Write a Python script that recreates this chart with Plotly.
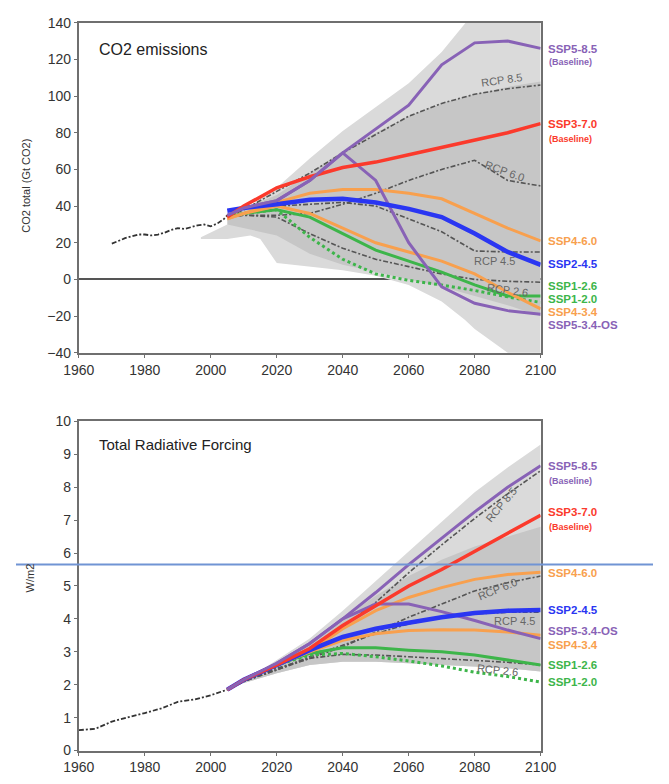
import plotly.graph_objects as go

# ---------------- DATA ----------------
years = [2005, 2010, 2020, 2030, 2040, 2050, 2060, 2070, 2080, 2090, 2100]

# CO2 emissions (Gt CO2)
hist_co2_years = [1970, 1972, 1974, 1976, 1978, 1980, 1982, 1984, 1986, 1988, 1990,
                  1992, 1994, 1996, 1998, 2000, 2002, 2004, 2005]
hist_co2 = [19.5, 21, 22.5, 23.5, 24.5, 24.5, 24, 24.5, 25.5, 27, 28,
            27.5, 28.5, 29.5, 30, 29, 30.5, 33, 35]

env_co2_years = [1997, 2005, 2012, 2015, 2020, 2030, 2040, 2050, 2060, 2070, 2077, 2080, 2090, 2100]
env_co2_upper = [23, 30, 40, 44, 50, 66, 81, 94, 107, 124, 140, 146, 160, 172]
env_co2_lower = [22, 22, 24, 22, 9, 7, 5, 2, -3, -12, -22, -27, -40, -55]
core_co2_years = [2005, 2020, 2030, 2040, 2050, 2060, 2070, 2080, 2090, 2100]
core_co2_upper = [35, 46, 58, 70, 80, 89, 96, 101, 105, 108]
core_co2_lower = [30, 24, 14, 8, 4, 0, -4, -9, -14, -20]

co2 = {
    "SSP5-8.5": [35, 39, 43, 54, 69, 82, 95, 117, 129, 130, 126],
    "SSP3-7.0": [34, 40, 50, 56, 61, 64, 68, 72, 76, 80, 85],
    "SSP4-6.0": [33, 36, 42, 47, 49, 49, 47, 44, 36, 28, 21],
    "SSP2-4.5": [37.5, 39, 41, 43.5, 44, 42, 38.5, 34, 25, 15, 8],
    "SSP1-2.6": [34, 36, 38, 34, 25, 16, 10, 4, -3, -9, -9],
    "SSP1-2.0": [34, 36, 38, 23, 11, 3, -0.5, -3, -6, -9.5, -12.5],
    "SSP4-3.4": [33, 36, 40, 36, 28, 20, 15, 10, 3, -7, -16],
    "SSP5-3.4-OS": [35, 39, 43, 54, 69, 54, 20, -4, -13, -17, -19],
}
co2_rcp = {
    "RCP 8.5": [34, 38, 48, 58, 69, 79, 89, 96, 101, 104, 106],
    "RCP 6.0": [34, 35, 35, 36, 41, 47, 54, 60, 65, 54, 51],
    "RCP 4.5": [34, 36, 40, 41, 42, 40, 33, 26, 15.5, 15, 15],
    "RCP 2.6": [34, 35, 34, 25, 17, 11, 7, 3, 0, -1, -1.5],
}

# Total radiative forcing (W/m2)
hist_rf_years = [1960, 1965, 1970, 1975, 1980, 1985, 1990, 1995, 2000, 2005]
hist_rf = [0.62, 0.66, 0.88, 1.0, 1.14, 1.28, 1.48, 1.55, 1.68, 1.85]

env_rf_upper = [1.85, 2.1, 2.75, 3.4, 4.25, 5.15, 6.05, 6.95, 7.85, 8.6, 9.3]
env_rf_lower = [1.85, 2.05, 2.35, 2.6, 2.7, 2.7, 2.65, 2.6, 2.55, 2.5, 2.4]
core_rf_upper = [1.85, 2.1, 2.7, 3.3, 4.0, 4.7, 5.3, 5.8, 6.2, 6.5, 6.8]

rf = {
    "SSP5-8.5": [1.85, 2.15, 2.65, 3.25, 4.0, 4.8, 5.65, 6.45, 7.25, 8.0, 8.65],
    "SSP3-7.0": [1.85, 2.15, 2.6, 3.1, 3.8, 4.4, 5.0, 5.5, 6.05, 6.6, 7.15],
    "SSP4-6.0": [1.85, 2.15, 2.6, 3.0, 3.7, 4.25, 4.65, 4.95, 5.2, 5.35, 5.42],
    "SSP2-4.5": [1.85, 2.15, 2.6, 3.05, 3.45, 3.7, 3.88, 4.05, 4.18, 4.25, 4.27],
    "SSP5-3.4-OS": [1.85, 2.15, 2.65, 3.25, 4.0, 4.45, 4.45, 4.22, 3.95, 3.66, 3.4],
    "SSP4-3.4": [1.85, 2.15, 2.6, 3.0, 3.35, 3.55, 3.65, 3.67, 3.66, 3.6, 3.5],
    "SSP1-2.6": [1.85, 2.15, 2.6, 2.95, 3.12, 3.12, 3.05, 3.0, 2.9, 2.75, 2.6],
    "SSP1-2.0": [1.85, 2.15, 2.6, 2.9, 2.95, 2.85, 2.72, 2.57, 2.38, 2.25, 2.08],
}
rf_rcp = {
    "RCP 8.5": [1.85, 2.1, 2.55, 3.1, 3.75, 4.5, 5.4, 6.25, 7.05, 7.8, 8.5],
    "RCP 6.0": [1.85, 2.1, 2.45, 2.8, 3.15, 3.6, 4.05, 4.45, 4.85, 5.1, 5.3],
    "RCP 4.5": [1.85, 2.1, 2.45, 2.85, 3.2, 3.55, 3.85, 4.05, 4.15, 4.2, 4.2],
    "RCP 2.6": [1.85, 2.1, 2.5, 2.8, 2.92, 2.9, 2.85, 2.8, 2.75, 2.68, 2.6],
}
rf_threshold = 5.65

# label positions (value on the axis) for right-hand labels
co2_label_y = {"SSP5-8.5": 125.5, "SSP3-7.0": 84.5, "SSP4-6.0": 21, "SSP2-4.5": 8.6,
               "SSP1-2.6": -3.3, "SSP1-2.0": -10.4, "SSP4-3.4": -17.5, "SSP5-3.4-OS": -24.6}
rf_label_y = {"SSP5-8.5": 8.65, "SSP3-7.0": 7.25, "SSP4-6.0": 5.4, "SSP2-4.5": 4.27,
              "SSP5-3.4-OS": 3.64, "SSP4-3.4": 3.2, "SSP1-2.6": 2.6, "SSP1-2.0": 2.07}
co2_rcp_label = {"RCP 8.5": (2088, 109, -8), "RCP 6.0": (2089, 59, 20),
                 "RCP 4.5": (2086, 10, 0), "RCP 2.6": (2090, -5.5, 8)}
rf_rcp_label = {"RCP 8.5": (2088, 7.45, -50), "RCP 6.0": (2087, 4.9, -22),
                "RCP 4.5": (2092, 3.95, 0), "RCP 2.6": (2087, 2.45, 6)}

# ---------------- STYLE ----------------
colors = {
    "SSP5-8.5": "#8862b6", "SSP5-3.4-OS": "#8862b6",
    "SSP3-7.0": "#fb3a2c",
    "SSP4-6.0": "#f8a04e", "SSP4-3.4": "#f8a04e",
    "SSP2-4.5": "#2a36f2",
    "SSP1-2.6": "#3db54a", "SSP1-2.0": "#3db54a",
}
widths = {"SSP2-4.5": 4.5, "SSP3-7.0": 3.5}
FONT = "Liberation Sans, Arial, Helvetica, sans-serif"
DASHDOT = "5px,2px,2px,2px"
LABEL_SIZE = 11.5

fig = go.Figure()


def band(xs, lo, hi, color, xa, ya):
    fig.add_trace(go.Scatter(x=xs, y=lo, mode="lines", line=dict(width=0, color=color),
                             xaxis=xa, yaxis=ya, hoverinfo="skip", showlegend=False))
    fig.add_trace(go.Scatter(x=xs, y=hi, mode="lines", line=dict(width=0, color=color),
                             fill="tonexty", fillcolor=color,
                             xaxis=xa, yaxis=ya, hoverinfo="skip", showlegend=False))


def panel(xa, ya, hist_x, hist_y, env_x, env_lo, env_hi, core_x, core_lo, core_hi, ssp, rcp):
    band(env_x, env_lo, env_hi, "#dadada", xa, ya)
    band(core_x, core_lo, core_hi, "#c6c6c6", xa, ya)
    for name, vals in rcp.items():
        fig.add_trace(go.Scatter(x=years, y=vals, mode="lines",
                                 line=dict(color="#555555", width=1.6, dash=DASHDOT),
                                 xaxis=xa, yaxis=ya, showlegend=False))
    fig.add_trace(go.Scatter(x=hist_x, y=hist_y, mode="lines",
                             line=dict(color="#333333", width=1.8, dash=DASHDOT),
                             xaxis=xa, yaxis=ya, showlegend=False))
    order = ["SSP1-2.0", "SSP1-2.6", "SSP4-3.4", "SSP4-6.0", "SSP5-3.4-OS",
             "SSP2-4.5", "SSP3-7.0", "SSP5-8.5"]
    for name in order:
        vals = ssp[name]
        dash = "dot" if name == "SSP1-2.0" else "solid"
        fig.add_trace(go.Scatter(x=years, y=vals, mode="lines",
                                 line=dict(color=colors[name], width=widths.get(name, 3), dash=dash),
                                 xaxis=xa, yaxis=ya, showlegend=False))


panel("x", "y", hist_co2_years, hist_co2, env_co2_years, env_co2_lower, env_co2_upper,
      core_co2_years, core_co2_lower, core_co2_upper, co2, co2_rcp)
panel("x2", "y2", hist_rf_years, hist_rf, years, env_rf_lower, env_rf_upper,
      years, env_rf_lower, core_rf_upper, rf, rf_rcp)

ann = []
for name, yv in co2_label_y.items():
    ann.append(dict(x=0.834, xref="paper", y=yv, yref="y", text=name, showarrow=False,
                    xanchor="left", yanchor="middle", borderpad=0,
                    font=dict(family=FONT, size=LABEL_SIZE, color=colors[name], weight="bold")))
for name, yv in rf_label_y.items():
    ann.append(dict(x=0.834, xref="paper", y=yv, yref="y2", text=name, showarrow=False,
                    xanchor="left", yanchor="middle", borderpad=0,
                    font=dict(family=FONT, size=LABEL_SIZE, color=colors[name], weight="bold")))
for name, yv in [("SSP5-8.5", 118.6), ("SSP3-7.0", 76.6)]:
    ann.append(dict(x=0.834, xref="paper", y=yv, yref="y", text="(Baseline)", showarrow=False,
                    xanchor="left", yanchor="middle",
                    font=dict(family=FONT, size=9, color=colors[name], weight="bold")))
for name, yv in [("SSP5-8.5", 8.2), ("SSP3-7.0", 6.8)]:
    ann.append(dict(x=0.834, xref="paper", y=yv, yref="y2", text="(Baseline)", showarrow=False,
                    xanchor="left", yanchor="middle",
                    font=dict(family=FONT, size=9, color=colors[name], weight="bold")))
for name, (xv, yv, ang) in co2_rcp_label.items():
    ann.append(dict(x=xv, y=yv, xref="x", yref="y", text=name, showarrow=False, textangle=ang,
                    font=dict(family=FONT, size=11, color="#666666")))
for name, (xv, yv, ang) in rf_rcp_label.items():
    ann.append(dict(x=xv, y=yv, xref="x2", yref="y2", text=name, showarrow=False, textangle=ang,
                    font=dict(family=FONT, size=11, color="#666666")))

ann.append(dict(x=85 / 669, y=1 - 42 / 784, xref="paper", yref="paper", text="CO2 emissions",
                showarrow=False, xanchor="left", yanchor="middle",
                font=dict(family=FONT, size=16, color="#222222")))
ann.append(dict(x=85 / 669, y=1 - 446 / 784, xref="paper", yref="paper", text="Total Radiative Forcing",
                showarrow=False, xanchor="left", yanchor="middle",
                font=dict(family=FONT, size=15, color="#222222")))
ann.append(dict(x=11 / 669, y=1 - 181 / 784, xref="paper", yref="paper", text="CO2 total (Gt CO2)",
                showarrow=False, textangle=-90, xanchor="center", yanchor="middle",
                font=dict(family=FONT, size=11, color="#333333")))
ann.append(dict(x=15 / 669, y=1 - 582 / 784, xref="paper", yref="paper", text="W/m2",
                showarrow=False, textangle=-90, xanchor="center", yanchor="middle",
                font=dict(family=FONT, size=11, color="#333333")))

shapes = [dict(type="line", xref="paper", yref="y2", x0=0, x1=1, y0=rf_threshold, y1=rf_threshold,
               line=dict(color="#7094d4", width=2), layer="above")]

xd = [66 / 669, 551 / 669]
axis_common = dict(showline=True, linecolor="#6f6f6f", linewidth=2, mirror=True,
                   ticks="outside", ticklen=3, tickcolor="#6f6f6f", showgrid=False,
                   tickfont=dict(family=FONT, size=14, color="#333333"))

fig.update_layout(
    width=669, height=784, margin=dict(l=0, r=0, t=0, b=0),
    paper_bgcolor="white", plot_bgcolor="white", showlegend=False,
    xaxis=dict(domain=xd, range=[1960, 2100], dtick=20, anchor="y", **axis_common),
    yaxis=dict(domain=[1 - 352 / 784, 1 - 15 / 784], range=[-40, 140], dtick=20, anchor="x",
               zeroline=True, zerolinecolor="#555555", zerolinewidth=2, **axis_common),
    xaxis2=dict(domain=xd, range=[1960, 2100], dtick=20, anchor="y2", **axis_common),
    yaxis2=dict(domain=[1 - 758 / 784, 1 - 422 / 784], range=[0, 10], dtick=1, anchor="x2",
                zeroline=False, **axis_common),
    annotations=ann, shapes=shapes,
)

fig.write_html("out.html")
